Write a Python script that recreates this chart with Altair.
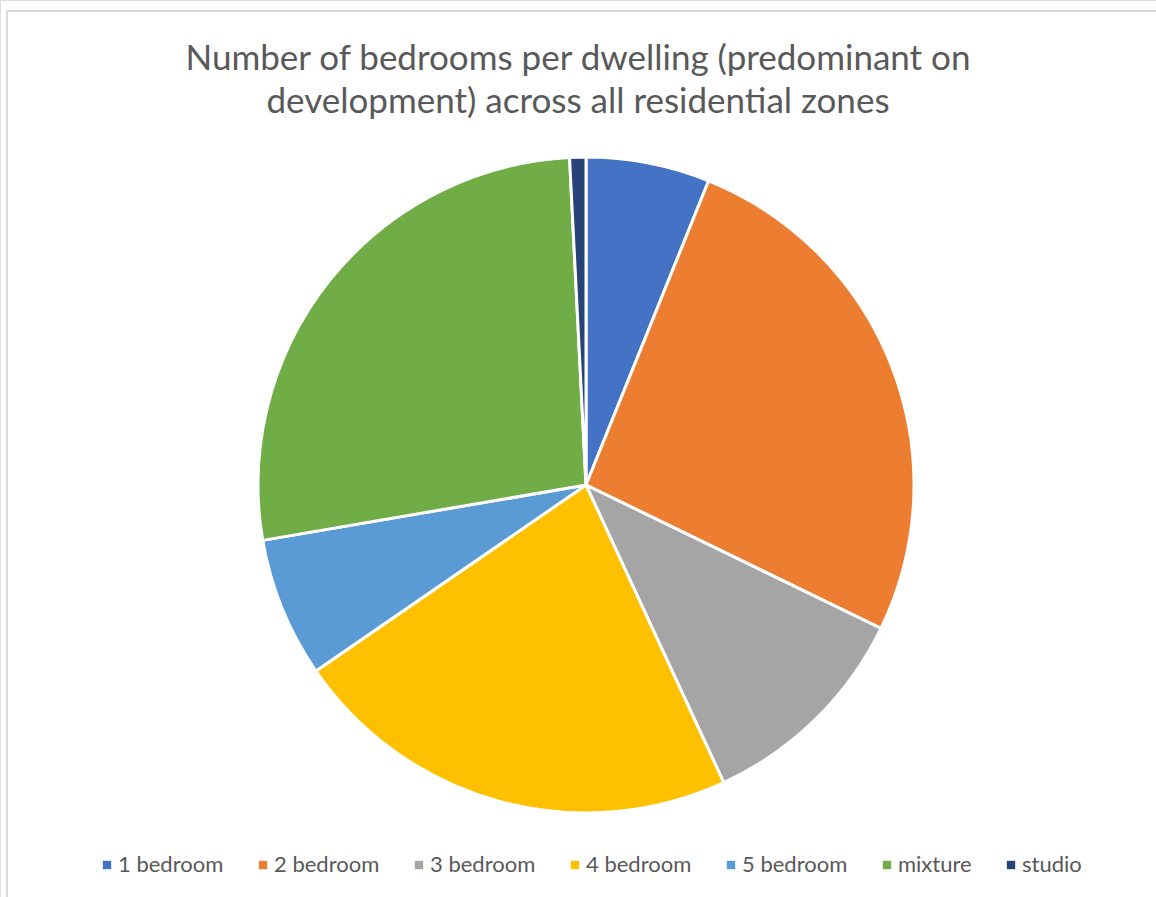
import altair as alt
import pandas as pd

categories = ["1 bedroom", "2 bedroom", "3 bedroom", "4 bedroom", "5 bedroom", "mixture", "studio"]
shares = [6.1, 26.1, 10.9, 22.3, 6.9, 26.9, 0.8]
colors = ["#4472C4", "#ED7D31", "#A5A5A5", "#FFC000", "#5B9BD5", "#70AD47", "#264478"]
title_lines = ["Number of bedrooms per dwelling (predominant on",
               "development) across all residential zones"]

df = pd.DataFrame({"category": categories, "share": shares, "idx": list(range(len(categories)))})

FONT = "Lato"
TEXT = "#595959"

frame = alt.Chart(pd.DataFrame({"a": [0]})).mark_rect(
    fill=None, stroke="#d9d9d9", strokeWidth=2
).encode(
    x=alt.value(7), x2=alt.value(1170), y=alt.value(11), y2=alt.value(910)
)

pie = alt.Chart(df).mark_arc(
    outerRadius=328, stroke="white", strokeWidth=3
).encode(
    theta=alt.Theta("share:Q", stack=True),
    order=alt.Order("idx:Q"),
    color=alt.Color(
        "category:N",
        scale=alt.Scale(domain=categories, range=colors),
        legend=alt.Legend(
            title=None, orient="none", direction="horizontal",
            legendX=96, legendY=854,
            symbolType="square", symbolSize=70, symbolStrokeWidth=0,
            labelFont=FONT, labelFontSize=22, labelColor=TEXT,
            labelOffset=0, columnPadding=28, labelLimit=300,
        ),
    ),
    x=alt.value(586),
    y=alt.value(485),
)

chart = alt.layer(frame, pie).properties(
    width=1156, height=897,
    padding=0,
    autosize=alt.AutoSizeParams(type="none"),
    title=alt.TitleParams(
        text=title_lines, anchor="middle", orient="top", baseline="top",
        font=FONT, fontSize=35, fontWeight="normal", color=TEXT,
        lineHeight=43, offset=0, dy=120,
    ),
).configure_view(stroke=None).configure(background="white")

chart.save("out.html", embed_options={"renderer": "svg", "actions": False})
